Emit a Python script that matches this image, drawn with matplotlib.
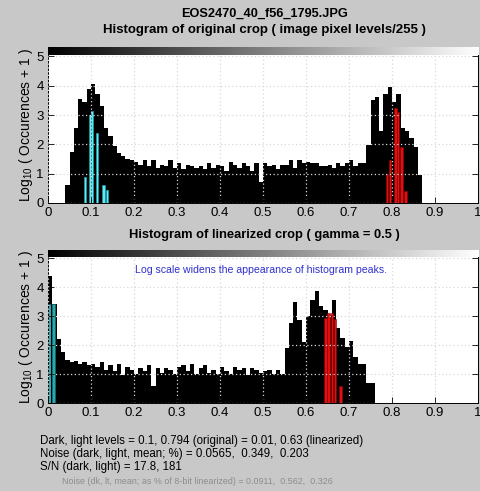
import numpy as np
import matplotlib
matplotlib.use("Agg")
import matplotlib.pyplot as plt

plt.rcParams.update({
    "font.family": ["Liberation Sans", "DejaVu Sans"],
    "mathtext.fontset": "custom",
    "mathtext.rm": "Liberation Sans",
    "mathtext.it": "Liberation Sans",
    "mathtext.bf": "Liberation Sans:bold",
    "mathtext.default": "rm",
})

# ---- data ----
BIN_W = 0.01

orig_start = 0.04
orig_counts = [0.6, 1.73, 2.55, 3.55, 3.45, 3.9, 4.05, 3.7, 3.3, 2.55,
               2.3, 1.95, 1.7, 1.6, 1.5, 1.45, 1.4, 1.3, 1.45, 1.25,
               1.45, 1.2, 1.3, 1.25, 1.45, 1.2, 1.35, 1.15, 1.3, 1.25,
               1.2, 1.25, 1.15, 1.35, 1.2, 1.3, 1.25, 1.1, 1.4, 1.3,
               1.2, 1.35, 1.25, 1.1, 1.35, 0.7, 1.35, 1.25, 1.3, 1.15,
               1.3, 1.3, 1.45, 1.2, 1.45, 1.35, 1.4, 1.35, 1.35, 1.25,
               1.25, 1.3, 1.2, 1.35, 1.25, 1.35, 1.45, 1.25, 1.35, 1.35,
               1.98, 3.5, 3.6, 2.45, 3.7, 3.95, 3.45, 3.7, 2.55, 2.45,
               2.2, 1.9, 0.97]
orig_dark_x = [0.086, 0.098, 0.103, 0.114, 0.129, 0.137]
orig_dark_y = [0.9, 3.0, 3.15, 2.4, 0.6, 0.45]
orig_light_x = [0.788, 0.795, 0.808, 0.814, 0.822, 0.832]
orig_light_y = [1.0, 1.45, 3.25, 3.1, 1.9, 0.4]

lin_start = 0.0
lin_counts = [4.4, 3.4, 2.2, 1.75, 1.5, 1.4, 1.45, 1.35, 1.4, 1.3,
              1.35, 1.25, 1.4, 1.15, 1.3, 1.1, 1.35, 0.95, 1.25, 1.15,
              1.0, 1.2, 1.1, 1.3, 0.6, 1.2, 1.05, 1.2, 1.15, 1.0,
              1.25, 1.3, 1.1, 1.35, 1.0, 1.2, 1.3, 1.05, 1.15, 1.0,
              1.25, 1.1, 1.0, 1.25, 1.15, 1.2, 0.95, 1.2, 1.15, 1.05,
              1.1, 1.15, 1.0, 1.15, 1.0, 1.9, 2.75, 3.5, 2.85, 2.1,
              3.0, 3.55, 3.85, 3.35, 3.2, 3.05, 3.55, 2.6, 2.25, 1.95,
              2.15, 1.6, 1.35, 1.35, 0.7, 0.7]
lin_dark_x = [0.0045, 0.0125]
lin_dark_y = [3.4, 3.4]
lin_light_x = [0.645, 0.652, 0.66, 0.667, 0.68]
lin_light_y = [2.95, 3.1, 3.1, 2.9, 0.6]

xticks = np.round(np.arange(0, 1.01, 0.1), 1)
xticklabels = ["0", "0.1", "0.2", "0.3", "0.4", "0.5", "0.6", "0.7", "0.8", "0.9", "1"]
yticks = [0, 1, 2, 3, 4, 5]

BG = "#c8c8c8"
fig = plt.figure(figsize=(4.81, 4.91), dpi=100, facecolor=BG)


def hist_axes(rect, start, counts, dark_x, dark_y, dark_w, dark_col, dark_edge,
              light_x, light_y, ytop, grad_lo):
    ax = fig.add_axes(rect)
    ax.set_facecolor("white")
    edges = start + BIN_W * np.arange(len(counts))
    ax.bar(edges, counts, width=BIN_W, align="edge", color="black",
           linewidth=0, zorder=1)
    ax.bar(dark_x, dark_y, width=dark_w, color=dark_col,
           edgecolor=dark_edge, linewidth=0.6, zorder=2)
    ax.bar(light_x, light_y, width=0.006, color="#e01010",
           edgecolor="#900000", linewidth=0.4, zorder=2)
    # grey-level strip along the top
    grad = np.linspace(0, 1, 256)[None, :]
    ax.imshow(grad, cmap="gray", aspect="auto", extent=(0, 1, grad_lo, ytop),
              zorder=3)
    ax.set_xlim(0, 1)
    ax.set_ylim(0, ytop)
    ax.set_xticks(xticks)
    ax.set_xticklabels(xticklabels)
    ax.set_yticks(yticks)
    ax.grid(True, color="#d8d8d8", linestyle=(0, (1, 2)), linewidth=0.9)
    ax.set_axisbelow(False)
    ax.tick_params(direction="in", top=True, right=True, length=4,
                   width=0.6, labelsize=9.5, pad=3)
    for s in ax.spines.values():
        s.set_linewidth(0.7)
    ax.set_ylabel("Log$_{10}$ ( Occurences + 1 )", fontsize=10, labelpad=1)
    return ax


ax1 = hist_axes([0.0998, 0.5866, 0.894, 0.3177], orig_start, orig_counts,
                orig_dark_x, orig_dark_y, 0.005, "#70e4ec", "#109aa4",
                orig_light_x, orig_light_y, 5.32, 5.05)
ax2 = hist_axes([0.0998, 0.1792, 0.894, 0.3116], lin_start, lin_counts,
                lin_dark_x, lin_dark_y, 0.008, "#2fa6ac", "#0c6c70",
                lin_light_x, lin_light_y, 5.28, 5.03)
# thin dark spike that pokes above the cyan block
ax2.bar([0.0085], [lin_counts[0]], width=0.003, color="black", linewidth=0, zorder=2.5)

fig.text(0.549, 0.9715, "EOS2470_40_f56_1795.JPG", ha="center", va="center",
         fontsize=9.2, fontweight="bold")
fig.text(0.549, 0.939, "Histogram of original crop ( image pixel levels/255 )",
         ha="center", va="center", fontsize=9.5, fontweight="bold")
fig.text(0.549, 0.521, "Histogram of linearized crop ( gamma = 0.5 )",
         ha="center", va="center", fontsize=9.3, fontweight="bold")
fig.text(0.281, 0.45, "Log scale widens the appearance of histogram peaks.",
         ha="left", va="center", fontsize=7.6, color="#3030d0")

fig.text(0.083, 0.102, "Dark, light levels = 0.1, 0.794 (original) = 0.01, 0.63 (linearized)",
         ha="left", va="center", fontsize=8.3)
fig.text(0.083, 0.076, "Noise (dark, light, mean; %) = 0.0565,  0.349,  0.203",
         ha="left", va="center", fontsize=8.3)
fig.text(0.083, 0.049, "S/N (dark, light) = 17.8, 181",
         ha="left", va="center", fontsize=8.3)
fig.text(0.129, 0.020, "Noise (dk, lt, mean; as % of 8-bit linearized) = 0.0911,  0.562,  0.326",
         ha="left", va="center", fontsize=6.4, color="#8c8c8c")

fig.savefig("out.png", dpi=100, facecolor=BG)
